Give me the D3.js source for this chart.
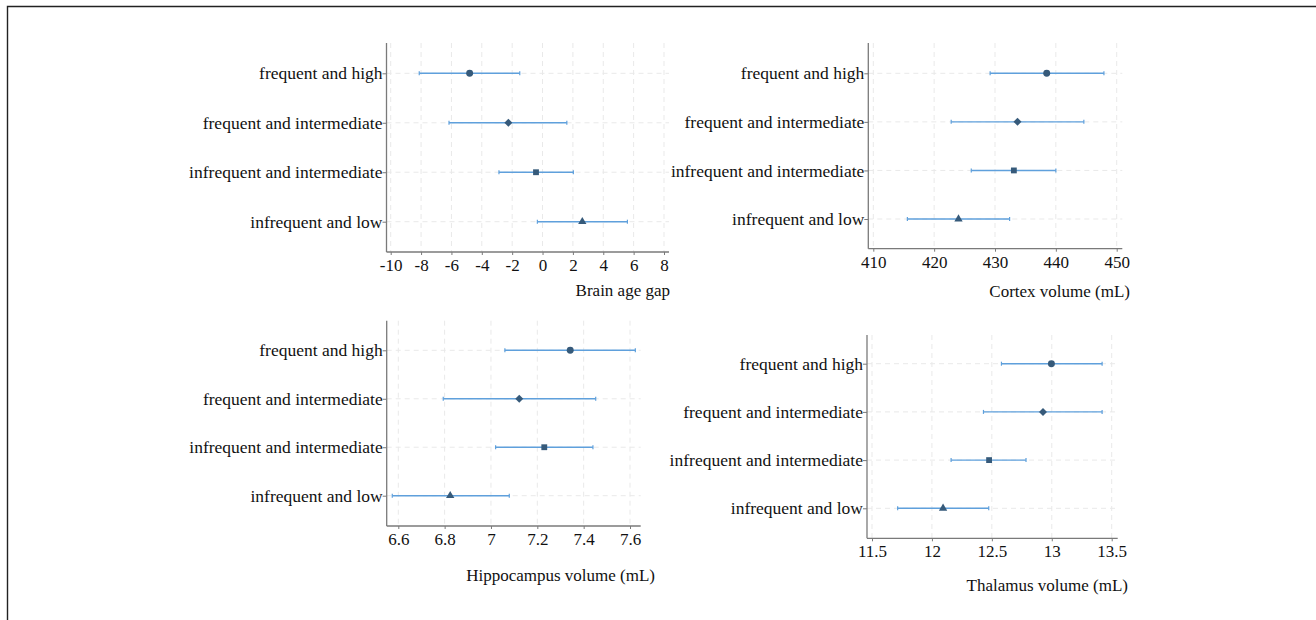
<!DOCTYPE html>
<html>
<head>
<meta charset="utf-8">
<script src="https://cdn.jsdelivr.net/npm/d3@7"></script>
<style>
  body { margin: 0; background: #fff; }
  svg { display: block; }
  text { font-family: "Liberation Serif", "Times New Roman", serif; fill: #111; }
</style>
</head>
<body>
<div id="chart"></div>
<script>
// groups, top to bottom
const categories = ["frequent and high", "frequent and intermediate", "infrequent and intermediate", "infrequent and low"];
const shapes = ["circle", "diamond", "square", "triangle"];

// estimates with 95% CI, same order as categories
const brainAgeGap = [-4.8, -2.25, -0.43, 2.62];
const brainAgeLow = [-8.12, -6.16, -2.87, -0.34];
const brainAgeHigh = [-1.5, 1.6, 2.03, 5.59];

const cortex = [438.5, 433.7, 433.1, 424.0];
const cortexLow = [429.2, 422.8, 426.1, 415.6];
const cortexHigh = [447.9, 444.6, 440.0, 432.4];

const hippocampus = [7.342, 7.122, 7.23, 6.824];
const hippocampusLow = [7.06, 6.794, 7.02, 6.574];
const hippocampusHigh = [7.623, 7.452, 7.44, 7.079];

const thalamus = [12.997, 12.927, 12.477, 12.093];
const thalamusLow = [12.58, 12.43, 12.16, 11.714];
const thalamusHigh = [13.42, 13.42, 12.785, 12.474];

// tick labels
const brainTicks = [-10, -8, -6, -4, -2, 0, 2, 4, 6, 8];
const cortexTicks = [410, 420, 430, 440, 450];
const hippoTicks = [6.6, 6.8, 7, 7.2, 7.4, 7.6];
const thalTicks = [11.5, 12, 12.5, 13, 13.5];

const W = 1316, H = 620;
const pointColor = "#365a7a";
const barColor = "#5fa0dc";
const gridColor = "#e9e9e9";

const svg = d3.select("#chart").append("svg")
    .attr("width", W)
    .attr("height", H);

// figure frame (only top and left show)
svg.append("path")
    .attr("d", `M7.5,${H} V6.5 H${W}`)
    .attr("fill", "none")
    .attr("stroke", "#222")
    .attr("stroke-width", 1.4);

// panel layout
const panels = [
    { title: "Brain age gap", est: brainAgeGap, lo: brainAgeLow, hi: brainAgeHigh, ticks: brainTicks,
      axisX: 386.5, top: 43, bottom: 252, right: 669, x0: 390.7, x1: 664, rowTop: 73.3, rowBot: 221.7,
      titleX: 670, titleY: 296 },
    { title: "Cortex volume (mL)", est: cortex, lo: cortexLow, hi: cortexHigh, ticks: cortexTicks,
      axisX: 868.3, top: 43, bottom: 248.7, right: 1122.3, x0: 873.3, x1: 1116.7, rowTop: 73.3, rowBot: 219,
      titleX: 1130, titleY: 297 },
    { title: "Hippocampus volume (mL)", est: hippocampus, lo: hippocampusLow, hi: hippocampusHigh, ticks: hippoTicks,
      axisX: 386.7, top: 320.7, bottom: 526, right: 640.7, x0: 398.3, x1: 630, rowTop: 350.3, rowBot: 495.7,
      titleX: 655, titleY: 581 },
    { title: "Thalamus volume (mL)", est: thalamus, lo: thalamusLow, hi: thalamusHigh, ticks: thalTicks,
      axisX: 867, top: 335, bottom: 538.3, right: 1117.7, x0: 872, x1: 1111.7, rowTop: 363.7, rowBot: 508.3,
      titleX: 1128, titleY: 591 }
];

panels.forEach(p => drawPanel(p));

// marker path for each group
function markerPath(shape) {
    if (shape === "circle") return d3.symbol().type(d3.symbolCircle).size(38)();
    if (shape === "square") return d3.symbol().type(d3.symbolSquare).size(34)();
    if (shape === "triangle") return d3.symbol().type(d3.symbolTriangle).size(30)();
    const r = 4; // square turned 45 degrees
    return `M0,${-r}L${r},0L0,${r}L${-r},0Z`;
}

function drawPanel(p) {
    const g = svg.append("g");

    const x = d3.scaleLinear()
        .domain([p.ticks[0], p.ticks[p.ticks.length - 1]])
        .range([p.x0, p.x1]);
    const y = d3.scalePoint()
        .domain(categories)
        .range([p.rowTop, p.rowBot]);

    // dashed grid
    g.selectAll("line.vgrid")
        .data(p.ticks)
        .enter().append("line")
        .attr("class", "vgrid")
        .attr("x1", d => x(d)).attr("x2", d => x(d))
        .attr("y1", p.top).attr("y2", p.bottom)
        .attr("stroke", gridColor)
        .attr("stroke-dasharray", "5,4");

    g.selectAll("line.hgrid")
        .data(categories)
        .enter().append("line")
        .attr("class", "hgrid")
        .attr("x1", p.axisX).attr("x2", p.right)
        .attr("y1", d => y(d)).attr("y2", d => y(d))
        .attr("stroke", gridColor)
        .attr("stroke-dasharray", "5,4");

    // x axis
    const xAxis = g.append("g")
        .attr("transform", `translate(0,${p.bottom})`)
        .call(d3.axisBottom(x).tickValues(p.ticks).tickSize(3).tickSizeOuter(0)
            .tickFormat(d => String(d)));
    xAxis.select(".domain").remove();
    xAxis.append("line")
        .attr("x1", p.axisX).attr("x2", p.right)
        .attr("stroke", "#7a7a7a").attr("stroke-width", 1.3);
    xAxis.selectAll(".tick line").attr("stroke", "#7a7a7a");
    xAxis.selectAll(".tick text")
        .attr("y", 7)
        .style("font-family", "'Liberation Serif', serif")
        .style("font-size", "17px")
        .attr("fill", "#111");

    // y axis
    const yAxis = g.append("g")
        .attr("transform", `translate(${p.axisX},0)`)
        .call(d3.axisLeft(y).tickSize(4).tickSizeOuter(0));
    yAxis.select(".domain").remove();
    yAxis.append("line")
        .attr("y1", p.top).attr("y2", p.bottom)
        .attr("stroke", "#7a7a7a").attr("stroke-width", 1.3);
    yAxis.selectAll(".tick line").attr("stroke", "#7a7a7a");
    yAxis.selectAll(".tick text")
        .attr("x", -4)
        .style("font-family", "'Liberation Serif', serif")
        .style("font-size", "17.5px")
        .attr("fill", "#111");

    // axis title
    g.append("text")
        .attr("x", p.titleX)
        .attr("y", p.titleY)
        .attr("text-anchor", "end")
        .style("font-size", "17px")
        .text(p.title);

    // confidence intervals
    const rows = categories.map((c, i) => ({ cat: c, est: p.est[i], lo: p.lo[i], hi: p.hi[i], shape: shapes[i] }));

    g.selectAll("line.ci")
        .data(rows)
        .enter().append("line")
        .attr("class", "ci")
        .attr("x1", d => x(d.lo)).attr("x2", d => x(d.hi))
        .attr("y1", d => y(d.cat)).attr("y2", d => y(d.cat))
        .attr("stroke", barColor)
        .attr("stroke-width", 1.4);

    ["lo", "hi"].forEach(k => {
        g.selectAll("line.cap-" + k)
            .data(rows)
            .enter().append("line")
            .attr("class", "cap-" + k)
            .attr("x1", d => x(d[k])).attr("x2", d => x(d[k]))
            .attr("y1", d => y(d.cat) - 2).attr("y2", d => y(d.cat) + 2)
            .attr("stroke", barColor)
            .attr("stroke-width", 1.2);
    });

    // point estimates
    g.selectAll("path.pt")
        .data(rows)
        .enter().append("path")
        .attr("class", "pt")
        .attr("transform", d => `translate(${x(d.est)},${y(d.cat)})`)
        .attr("d", d => markerPath(d.shape))
        .attr("fill", pointColor);
}
</script>
</body>
</html>
